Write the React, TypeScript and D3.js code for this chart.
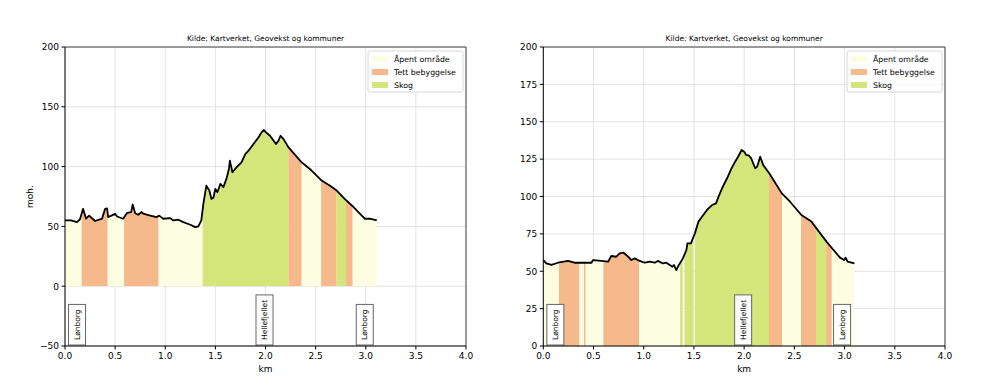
import React from 'react';
import * as d3 from 'd3';

// source line on top of each chart
const title = 'Kilde: Kartverket, Geovekst og kommuner';

// elevation profile, left chart (km along route, metres above sea level)
const leftKm = [0, 0.06, 0.12, 0.15, 0.18, 0.21, 0.24, 0.3, 0.37, 0.4, 0.42, 0.43, 0.5, 0.52, 0.58, 0.62, 0.66, 0.675, 0.7, 0.73, 0.765, 0.78, 0.85, 0.915, 0.94, 0.98, 1.05, 1.08, 1.13, 1.18, 1.25, 1.3, 1.33, 1.36, 1.38, 1.41, 1.44, 1.46, 1.48, 1.5, 1.52, 1.55, 1.58, 1.61, 1.635, 1.645, 1.67, 1.71, 1.76, 1.8, 1.83, 1.88, 1.93, 1.96, 1.985, 2.005, 2.045, 2.08, 2.105, 2.13, 2.15, 2.18, 2.23, 2.36, 2.46, 2.56, 2.64, 2.71, 2.79, 2.88, 2.99, 3.04, 3.11];
const leftElev = [55, 55, 53.6, 56, 64.7, 56.4, 59, 54.5, 56.5, 64.7, 65, 57.8, 60.5, 58.3, 56.4, 61.4, 61.9, 68.3, 61, 59.7, 62, 60.6, 59, 57.8, 59, 56.4, 56.9, 55, 55.6, 53.6, 51.4, 49.4, 50, 55, 68.9, 84, 80, 73, 74, 81.4, 78.6, 85.6, 82.8, 89.7, 98, 105, 95.3, 99.4, 103.6, 110.6, 113.3, 118.9, 124.4, 128.6, 130.6, 128.6, 125.8, 121.7, 118.9, 121.7, 125.8, 123, 116, 103.6, 96.7, 88.3, 84.2, 80, 73, 66, 56.4, 56.4, 55];

// elevation profile, right chart
const rightKm = [0, 0.03, 0.08, 0.146, 0.246, 0.31, 0.41, 0.48, 0.495, 0.578, 0.645, 0.677, 0.727, 0.76, 0.8, 0.845, 0.877, 0.91, 0.96, 1.01, 1.06, 1.11, 1.14, 1.19, 1.225, 1.26, 1.285, 1.3, 1.325, 1.34, 1.39, 1.425, 1.435, 1.47, 1.51, 1.545, 1.58, 1.63, 1.68, 1.72, 1.745, 1.78, 1.83, 1.875, 1.91, 1.94, 1.975, 2.0, 2.02, 2.05, 2.07, 2.11, 2.13, 2.16, 2.19, 2.25, 2.375, 2.457, 2.57, 2.67, 2.72, 2.82, 2.89, 2.955, 2.995, 3.01, 3.03, 3.098];
const rightElev = [57.5, 55.3, 54.2, 55.7, 56.9, 55.7, 55.7, 55.7, 57.5, 56.9, 56.4, 60.2, 59.7, 62, 62.4, 59.7, 57.5, 58.6, 56.9, 55.7, 56.4, 55.7, 56.9, 55.3, 55.7, 54.2, 53, 54.2, 50.8, 53, 58.6, 64.2, 68.7, 68.7, 75.4, 83.2, 86.5, 91, 94.3, 95.4, 99.9, 105.5, 112.2, 118.9, 123.3, 126.6, 131.1, 130, 127.8, 127.3, 125.5, 118.9, 120, 126.6, 121, 115.5, 102.1, 96.5, 87.6, 83.2, 78.7, 69.8, 64.2, 59.1, 57.5, 59.1, 56.4, 55.3];

// land cover along the route: segment start (km) and type
const leftSegStart = [0, 0.166, 0.426, 0.589, 0.934, 1.373, 2.228, 2.361, 2.554, 2.71, 2.803, 2.87];
const leftSegType = ['open', 'built', 'open', 'built', 'open', 'forest', 'built', 'open', 'built', 'forest', 'built', 'open'];
const rightSegStart = [0, 0.156, 0.359, 0.405, 0.422, 0.598, 0.953, 1.362, 1.388, 1.405, 1.494, 1.511, 2.248, 2.378, 2.567, 2.716, 2.816, 2.873];
const rightSegType = ['open', 'built', 'open', 'built', 'open', 'built', 'open', 'forest', 'gap', 'forest', 'gap', 'forest', 'built', 'open', 'built', 'forest', 'built', 'open'];

// place names along the route
const placeNames = ['Lønborg', 'Hellefjellet', 'Lønborg'];
const leftPlaceKm = [0.12, 1.99, 2.99];
const rightPlaceKm = [0.12, 1.99, 2.975];

const legendTypes = ['open', 'built', 'forest'];
const legendLabels = ['Åpent område', 'Tett bebyggelse', 'Skog'];

const xTicks = [0, 0.5, 1, 1.5, 2, 2.5, 3, 3.5, 4];
const leftYTicks = [-50, 0, 50, 100, 150, 200];
const rightYTicks = [0, 25, 50, 75, 100, 125, 150, 175, 200];

const colors = { open: '#fdfde1', built: '#f6b98b', forest: '#d4e57c' };
const font = 'DejaVu Sans, sans-serif';

const fmtY = (v) => (v < 0 ? '\u2212' + Math.abs(v) : String(v));

// measure label width so the boxes fit their text
const measure = (s, size) => {
  const ctx = document.createElement('canvas').getContext('2d');
  if (!ctx) return s.length * 4.2;
  ctx.font = `${size}px "DejaVu Sans"`;
  return ctx.measureText(s).width;
};

const Chart = ({ id, left, right, top, bottom, yDomain, yTicks, km, elev, segStart, segType, placeKm, ylabel }) => {
  const x = d3.scaleLinear().domain([0, 4]).range([left, right]);
  const y = d3.scaleLinear().domain(yDomain).range([bottom, top]);
  const pts = km.map((k, i) => [k, elev[i]]);
  const endKm = km[km.length - 1];

  const area = d3.area().x(d => x(d[0])).y0(y(0)).y1(d => y(d[1]))(pts);
  const line = d3.line().x(d => x(d[0])).y(d => y(d[1]))(pts);

  const legendX = right - 98;
  const legendY = top + 4;

  return (
    <g>
      <text x={(left + right) / 2} y={top - 6} textAnchor="middle" fontFamily={font} fontSize={7.5}>{title}</text>
      {/* grid */}
      {xTicks.map(t => (
        <line key={'gx' + t} x1={x(t)} x2={x(t)} y1={top} y2={bottom} stroke="#e3e3e3" strokeWidth={1} />
      ))}
      {yTicks.map(t => (
        <line key={'gy' + t} x1={left} x2={right} y1={y(t)} y2={y(t)} stroke="#e3e3e3" strokeWidth={1} />
      ))}
      {/* land cover fills */}
      <defs>
        {segStart.map((s, i) => {
          const e = i < segStart.length - 1 ? segStart[i + 1] : endKm;
          return (
            <clipPath key={i} id={`${id}-c${i}`}>
              <rect x={x(s)} y={top} width={x(e) - x(s)} height={y(0) - top} />
            </clipPath>
          );
        })}
      </defs>
      {segStart.map((s, i) => segType[i] === 'gap' ? null : (
        <path key={'a' + i} d={area} fill={colors[segType[i]]} clipPath={`url(#${id}-c${i})`} />
      ))}
      <path d={line} fill="none" stroke="#000" strokeWidth={1.8} strokeLinejoin="round" />
      {/* place labels */}
      {placeNames.map((n, i) => {
        const h = measure(n, 7.5) + 10;
        const cx = x(placeKm[i]);
        return (
          <g key={'p' + i}>
            <rect x={cx - 8.5} y={bottom - 1 - h} width={17} height={h} fill="#fff" stroke="#666" strokeWidth={1} />
            <text transform={`translate(${cx + 2.7},${bottom - 1 - h / 2}) rotate(-90)`} textAnchor="middle"
              fontFamily={font} fontSize={7.5}>{n}</text>
          </g>
        );
      })}
      {/* frame */}
      <line x1={left} x2={right} y1={top} y2={top} stroke="#444" strokeWidth={1} />
      <line x1={right} x2={right} y1={top} y2={bottom} stroke="#444" strokeWidth={1} />
      <line x1={left} x2={left} y1={top} y2={bottom} stroke="#000" strokeWidth={1} />
      <line x1={left} x2={right} y1={bottom} y2={bottom} stroke="#000" strokeWidth={1} />
      {/* axes */}
      {xTicks.map(t => (
        <g key={'xt' + t}>
          <line x1={x(t)} x2={x(t)} y1={bottom} y2={bottom + 3.5} stroke="#000" />
          <text x={x(t)} y={bottom + 13} textAnchor="middle" fontFamily={font} fontSize={9}>{d3.format('.1f')(t)}</text>
        </g>
      ))}
      {yTicks.map(t => (
        <g key={'yt' + t}>
          <line x1={left - 3.5} x2={left} y1={y(t)} y2={y(t)} stroke="#000" />
          <text x={left - 6} y={y(t) + 3.3} textAnchor="end" fontFamily={font} fontSize={9}>{fmtY(t)}</text>
        </g>
      ))}
      <text x={(left + right) / 2} y={bottom + 26} textAnchor="middle" fontFamily={font} fontSize={9}>km</text>
      {ylabel && (
        <text transform={`translate(${left - 32},${(top + bottom) / 2}) rotate(-90)`} textAnchor="middle" fontFamily={font} fontSize={9}>{ylabel}</text>
      )}
      {/* legend */}
      <rect x={legendX} y={legendY} width={95} height={41} rx={2} fill="#fff" fillOpacity={0.8} stroke="#d8d8d8" />
      {legendTypes.map((t, i) => (
        <g key={'l' + t}>
          <rect x={legendX + 4} y={legendY + 5 + i * 13} width={16} height={6} fill={colors[t]} />
          <text x={legendX + 26} y={legendY + 11 + i * 13} fontFamily={font} fontSize={7.8}>{legendLabels[i]}</text>
        </g>
      ))}
    </g>
  );
};

export default function App() {
  return (
    <div style={{ position: 'absolute', left: 0, top: 0 }}>
      <svg width={997} height={389} style={{ display: 'block', background: '#fff' }}>
        <Chart id="l" left={65} right={466} top={47} bottom={346} yDomain={[-50, 200]} yTicks={leftYTicks}
          km={leftKm} elev={leftElev} segStart={leftSegStart} segType={leftSegType} placeKm={leftPlaceKm} ylabel="moh." />
        <Chart id="r" left={543.3} right={945} top={47} bottom={346} yDomain={[0, 200]} yTicks={rightYTicks}
          km={rightKm} elev={rightElev} segStart={rightSegStart} segType={rightSegType} placeKm={rightPlaceKm} ylabel={null} />
      </svg>
    </div>
  );
}
